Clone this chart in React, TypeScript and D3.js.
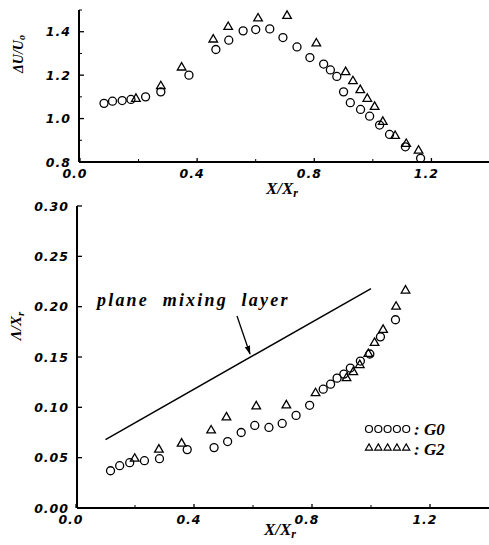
import React from "react";
import * as d3 from "d3";

const width = 489,
  height = 545;

// top panel: velocity difference
const topG0X = [0.082, 0.111, 0.144, 0.174, 0.224, 0.276, 0.372, 0.464, 0.508, 0.557, 0.6, 0.648, 0.693, 0.741, 0.785, 0.832, 0.855, 0.877, 0.9, 0.923, 0.958, 0.989, 1.023, 1.057, 1.111, 1.163];
const topG0Y = [1.07, 1.08, 1.083, 1.088, 1.1, 1.123, 1.2, 1.318, 1.361, 1.404, 1.41, 1.413, 1.373, 1.33, 1.281, 1.251, 1.224, 1.194, 1.123, 1.073, 1.042, 1.011, 0.97, 0.927, 0.87, 0.817];
const topG2X = [0.191, 0.276, 0.347, 0.455, 0.506, 0.608, 0.707, 0.807, 0.907, 0.932, 0.957, 0.981, 1.006, 1.034, 1.076, 1.114, 1.156];
const topG2Y = [1.091, 1.149, 1.235, 1.364, 1.422, 1.461, 1.473, 1.346, 1.214, 1.172, 1.131, 1.091, 1.054, 0.985, 0.92, 0.883, 0.852];

// bottom panel: wavelength
const botG0X = [0.117, 0.148, 0.182, 0.232, 0.283, 0.377, 0.468, 0.514, 0.56, 0.606, 0.654, 0.699, 0.746, 0.792, 0.838, 0.863, 0.885, 0.908, 0.93, 0.964, 0.996, 1.032, 1.083];
const botG0Y = [0.037, 0.042, 0.045, 0.047, 0.049, 0.058, 0.06, 0.066, 0.075, 0.082, 0.08, 0.084, 0.092, 0.102, 0.118, 0.123, 0.129, 0.133, 0.139, 0.146, 0.153, 0.17, 0.187];
const botG2X = [0.199, 0.281, 0.358, 0.458, 0.51, 0.611, 0.713, 0.812, 0.917, 0.94, 0.962, 0.991, 1.012, 1.041, 1.085, 1.117];
const botG2Y = [0.049, 0.058, 0.064, 0.077, 0.09, 0.101, 0.102, 0.114, 0.129, 0.135, 0.142, 0.153, 0.164, 0.177, 0.2, 0.216];

const mixX = [0.1, 1.0];
const mixY = [0.068, 0.218];

const xTicks = [0, 0.4, 0.8, 1.2];
const xMinor = [0.2, 0.6, 1.0];
const topYTicks = [0.8, 1.0, 1.2, 1.4];
const topYMinor = [0.9, 1.1, 1.3, 1.5];
const botYTicks = [0, 0.05, 0.1, 0.15, 0.2, 0.25, 0.3];

const tickFont = {
  fontFamily: "DejaVu Sans",
  fontWeight: "bold",
  fontStyle: "italic",
  fontSize: 12.5,
  letterSpacing: 1,
} as const;
const titleFont = {
  fontFamily: "Liberation Serif",
  fontWeight: "bold",
  fontStyle: "italic",
} as const;

const tri = d3.symbol().type(d3.symbolTriangle).size(32)();

function Markers({ xs, ys, x, y, kind }: any) {
  return (
    <g fill="none" stroke="#000" strokeWidth={1.3}>
      {xs.map((v: number, i: number) =>
        kind === "circle" ? (
          <circle key={i} cx={x(v)} cy={y(ys[i])} r={4} />
        ) : (
          <path key={i} d={tri!} transform={`translate(${x(v)},${y(ys[i])})`} />
        ),
      )}
    </g>
  );
}

function Axes({ x, y, yTicks, yMinor, fmt, x0, xEnd }: any) {
  const [y0, y1] = y.range();
  return (
    <g>
      <line x1={x0} x2={xEnd} y1={y0} y2={y0} stroke="#000" strokeWidth={2} />
      <line x1={x0} x2={x0} y1={y0} y2={y1} stroke="#000" strokeWidth={2} />
      {xTicks.map((t) => (
        <g key={t}>
          <line x1={x(t)} x2={x(t)} y1={y0} y2={y0 - 4} stroke="#000" strokeWidth={1.3} />
          <text x={x(t) - 5} y={y0 + 16} textAnchor="middle" {...tickFont}>
            {d3.format(".1f")(t)}
          </text>
        </g>
      ))}
      {xMinor.map((t) => (
        <line key={t} x1={x(t)} x2={x(t)} y1={y0} y2={y0 - 3} stroke="#000" strokeWidth={1} />
      ))}
      {yTicks.map((t: number) => (
        <g key={t}>
          <line x1={x0} x2={x0 + 5} y1={y(t)} y2={y(t)} stroke="#000" strokeWidth={1.3} />
          <text x={x0 - 8} y={y(t) + 4.5} textAnchor="end" {...tickFont}>
            {fmt(t)}
          </text>
        </g>
      ))}
      {yMinor.map((t: number) => (
        <line key={t} x1={x0} x2={x0 + 3} y1={y(t)} y2={y(t)} stroke="#000" strokeWidth={1} />
      ))}
    </g>
  );
}

export default function App() {
  const xTop = d3.scaleLinear().domain([0, 1.4]).range([80, 490]);
  const yTop = d3.scaleLinear().domain([0.8, 1.5]).range([162, 10]);
  const xBot = d3.scaleLinear().domain([0, 1.4]).range([76, 489]);
  const yBot = d3.scaleLinear().domain([0, 0.3]).range([508, 206]);

  const mixLine = d3
    .line<number>()
    .x((d) => xBot(d))
    .y((d, i) => yBot(mixY[i]));

  return (
    <svg width={width} height={height} style={{ position: "absolute", left: 0, top: 0, background: "#fff" }}>
      <defs>
        <marker id="arr" viewBox="0 0 10 10" refX={9} refY={5} markerWidth={7} markerHeight={9} orient="auto">
          <path d="M0,2 L10,5 L0,8 Z" fill="#000" />
        </marker>
      </defs>

      {/* top panel */}
      <Axes x={xTop} y={yTop} yTicks={topYTicks} yMinor={topYMinor} fmt={d3.format(".1f")} x0={79} xEnd={489} />
      <Markers xs={topG0X} ys={topG0Y} x={xTop} y={yTop} kind="circle" />
      <Markers xs={topG2X} ys={topG2Y} x={xTop} y={yTop} kind="triangle" />
      <text transform="translate(23,54) rotate(-90)" textAnchor="middle" {...titleFont} fontSize={14}>
        ΔU/U<tspan fontSize={10} dy={2}>o</tspan>
      </text>
      <text x={282} y={194} textAnchor="middle" {...titleFont} fontSize={17}>
        X/X<tspan fontSize={12} dy={3}>r</tspan>
      </text>

      {/* bottom panel */}
      <Axes x={xBot} y={yBot} yTicks={botYTicks} yMinor={[]} fmt={d3.format(".2f")} x0={77} xEnd={489} />
      <path d={mixLine(mixX) ?? ""} fill="none" stroke="#000" strokeWidth={1.5} />
      <Markers xs={botG0X} ys={botG0Y} x={xBot} y={yBot} kind="circle" />
      <Markers xs={botG2X} ys={botG2Y} x={xBot} y={yBot} kind="triangle" />
      <text x={97} y={306} {...titleFont} fontSize={18} letterSpacing={2.2} wordSpacing={7}>
        plane mixing layer
      </text>
      <line x1={237} y1={316} x2={250} y2={354} stroke="#000" strokeWidth={1.3} markerEnd="url(#arr)" />
      <text transform="translate(21,326) rotate(-90)" textAnchor="middle" {...titleFont} fontSize={15}>
        Λ/X<tspan fontSize={11} dy={3}>r</tspan>
      </text>
      <text x={280} y={535} textAnchor="middle" {...titleFont} fontSize={17}>
        X/X<tspan fontSize={12} dy={3}>r</tspan>
      </text>

      {/* legend */}
      <g fill="none" stroke="#000" strokeWidth={1.2}>
        {[0, 1, 2, 3, 4].map((i) => (
          <circle key={i} cx={369 + i * 9.3} cy={429} r={3.5} />
        ))}
        {[0, 1, 2, 3, 4].map((i) => (
          <path key={i} d={d3.symbol().type(d3.symbolTriangle).size(22)()!} transform={`translate(${369 + i * 9.3},448)`} />
        ))}
      </g>
      <text x={414} y={435} {...titleFont} fontSize={17}>
        : G0
      </text>
      <text x={414} y={455} {...titleFont} fontSize={17}>
        : G2
      </text>
    </svg>
  );
}
